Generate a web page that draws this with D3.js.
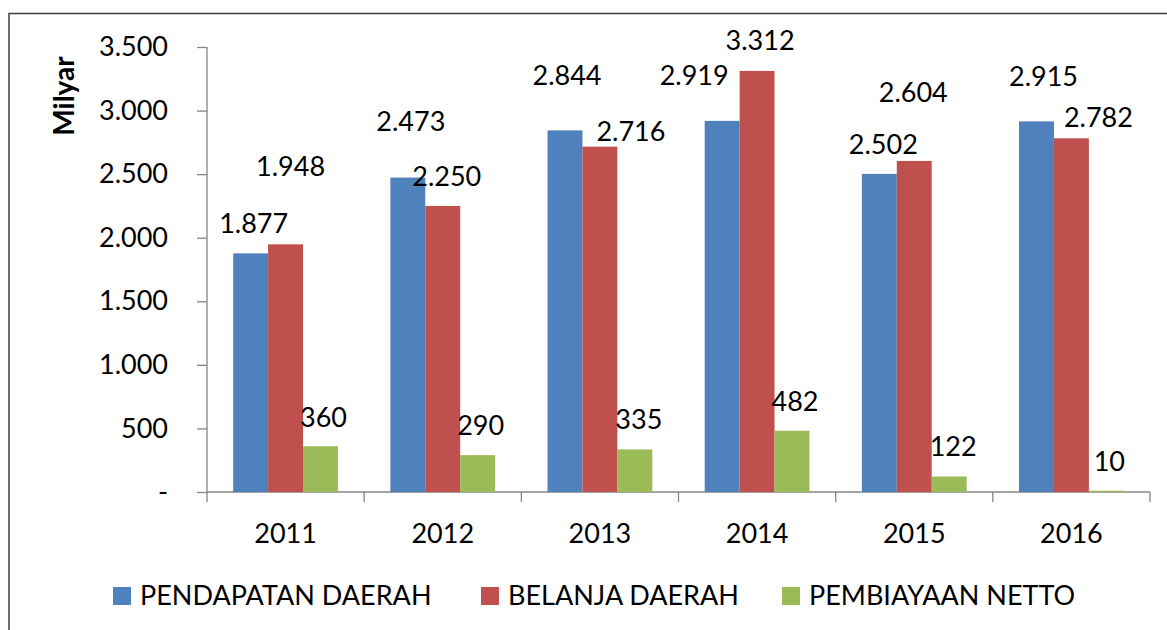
<!DOCTYPE html>
<html>
<head>
<meta charset="utf-8">
<script src="https://cdnjs.cloudflare.com/ajax/libs/d3/7.8.5/d3.min.js"></script>
<style>
  body { margin: 0; background: #fff; }
  text { font-family: Lato, "Open Sans", sans-serif; fill: #000; }
</style>
</head>
<body>
<div id="chart"></div>
<script>
// data
var years = ["2011", "2012", "2013", "2014", "2015", "2016"];
var seriesNames = ["PENDAPATAN DAERAH", "BELANJA DAERAH", "PEMBIAYAAN NETTO"];
var pendapatan = [1877, 2473, 2844, 2919, 2502, 2915];
var belanja = [1948, 2250, 2716, 3312, 2604, 2782];
var pembiayaan = [360, 290, 335, 482, 122, 10];
var yTicks = [0, 500, 1000, 1500, 2000, 2500, 3000, 3500];
var colors = ["#4F81BD", "#C0504D", "#9BBB59"];

// label placement (Excel moved some labels around), per series per year: [dx, gap above bar]
var labelNudge = [
  [[3, 20], [3, 47], [2, 45], [-28, 36], [4, 20], [7, 35]],
  [[5, 68], [4, 20], [31, 6], [3, 21], [-1, 59], [27, 11]],
  [[3, 19], [3, 20], [4, 20], [3, 20], [4, 20], [3, 20]]
];

var svgWidth = 1167;
var svgHeight = 630;
var margin = { top: 47, left: 207, right: 17, bottom: 138 };
var width = svgWidth - margin.left - margin.right;
var height = svgHeight - margin.top - margin.bottom;
var fontSize = "27px";

var svg = d3.select("#chart")
  .append("svg")
  .attr("width", svgWidth)
  .attr("height", svgHeight);

// outer chart border
svg.append("rect")
  .attr("x", 9).attr("y", 13.5)
  .attr("width", 1200).attr("height", 700)
  .attr("fill", "none")
  .attr("stroke", "#404040")
  .attr("stroke-width", 1.5);

var chartGroup = svg.append("g")
  .attr("transform", `translate(${margin.left}, ${margin.top})`);

var x0 = d3.scaleBand().domain(years).range([0, width]);
var groupPad = x0.bandwidth() * 0.1667;
var x1 = d3.scaleBand().domain([0, 1, 2])
  .range([groupPad, x0.bandwidth() - groupPad]);
var y = d3.scaleLinear().domain([0, 3500]).range([height, 0]);

var fmt = d3.formatLocale({ decimal: ",", thousands: ".", grouping: [3], currency: ["", ""] }).format(",");

// y axis
var leftAxis = d3.axisLeft(y)
  .tickValues(yTicks)
  .tickSize(10)
  .tickPadding(29)
  .tickFormat(d => d === 0 ? "-" : fmt(d));
var yAxis = chartGroup.append("g").call(leftAxis);
yAxis.select(".domain").attr("stroke", "#868686").attr("stroke-width", 1.3).attr("d", `M0,0V${height}`);
yAxis.selectAll(".tick line").attr("stroke", "#868686").attr("stroke-width", 1.3);
yAxis.selectAll(".tick text").style("font-size", fontSize).style("font-family", "Lato, sans-serif").attr("fill", "#000");

// x axis (ticks at band edges)
var xAxis = chartGroup.append("g").attr("transform", `translate(0, ${height})`);
xAxis.append("line")
  .attr("x1", 0).attr("x2", width)
  .attr("stroke", "#868686").attr("stroke-width", 1.3);
xAxis.selectAll(".xtick")
  .data(years.concat(["end"]))
  .enter().append("line")
  .attr("x1", (d, i) => i * x0.step())
  .attr("x2", (d, i) => i * x0.step())
  .attr("y1", 0).attr("y2", 10)
  .attr("stroke", "#868686").attr("stroke-width", 1.3);
xAxis.selectAll(".xlabel")
  .data(years)
  .enter().append("text")
  .attr("x", d => x0(d) + x0.bandwidth() / 2)
  .attr("y", 51)
  .attr("text-anchor", "middle")
  .style("font-size", fontSize)
  .text(d => d);

// bars
var allSeries = [pendapatan, belanja, pembiayaan];
allSeries.forEach((vals, s) => {
  chartGroup.selectAll(".bar" + s)
    .data(vals)
    .enter().append("rect")
    .attr("x", (d, i) => x0(years[i]) + x1(s))
    .attr("y", d => y(d))
    .attr("width", x1.bandwidth())
    .attr("height", d => height - y(d))
    .attr("fill", colors[s]);

  chartGroup.selectAll(".lab" + s)
    .data(vals)
    .enter().append("text")
    .attr("x", (d, i) => x0(years[i]) + x1(s) + x1.bandwidth() / 2 + labelNudge[s][i][0])
    .attr("y", (d, i) => y(d) - labelNudge[s][i][1])
    .attr("text-anchor", "middle")
    .style("font-size", fontSize)
    .text(d => fmt(d));
});

// y axis title
svg.append("text")
  .attr("transform", "translate(74, 96) rotate(-90)")
  .attr("text-anchor", "middle")
  .style("font-size", "28px")
  .style("font-weight", "bold")
  .text("Milyar");

// legend
var legendX = [113, 481, 782];
var legend = svg.selectAll(".legend")
  .data(seriesNames)
  .enter().append("g")
  .attr("transform", (d, i) => `translate(${legendX[i]}, 587)`);
legend.append("rect")
  .attr("width", 18).attr("height", 18)
  .attr("fill", (d, i) => colors[i]);
legend.append("text")
  .attr("x", 27).attr("y", 18)
  .style("font-size", fontSize)
  .text(d => d);
</script>
</body>
</html>
